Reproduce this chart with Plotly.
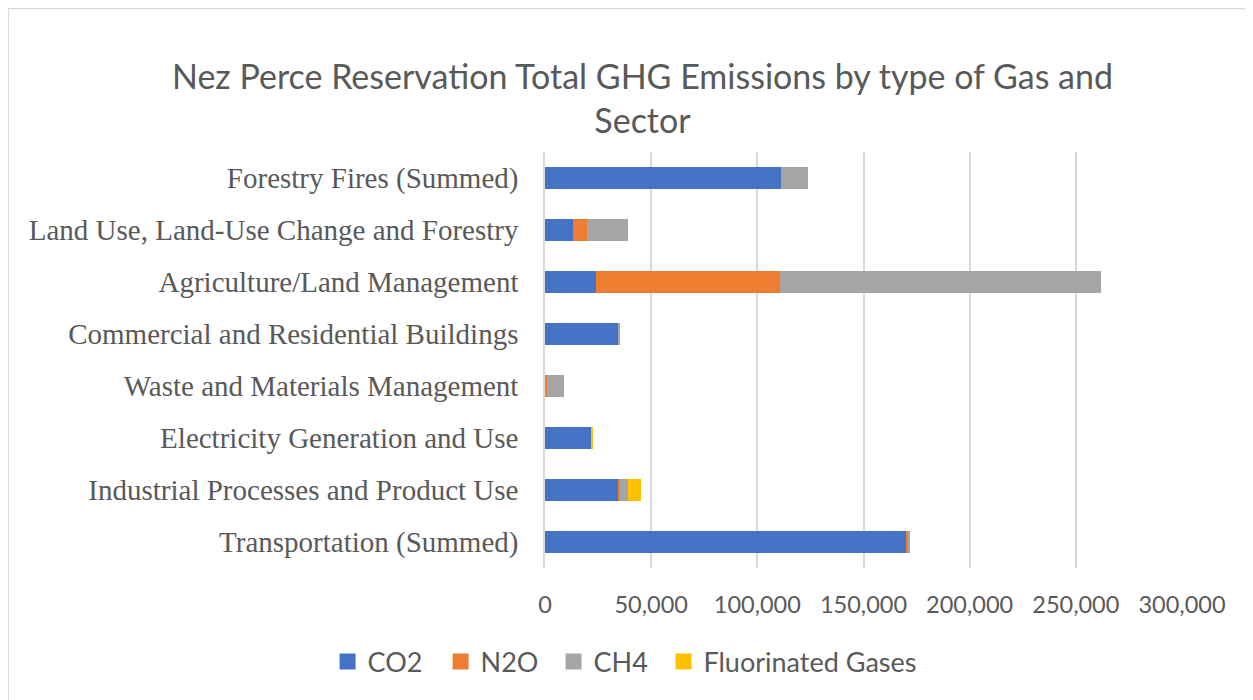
import plotly.graph_objects as go

categories = [
    "Transportation (Summed)",
    "Industrial Processes and Product Use",
    "Electricity Generation and Use",
    "Waste and Materials Management",
    "Commercial and Residential Buildings",
    "Agriculture/Land Management",
    "Land Use, Land-Use Change and Forestry",
    "Forestry Fires (Summed)",
]
co2 = [170200, 34700, 21600, 0, 34300, 23800, 13000, 111300]
n2o = [900, 600, 0, 800, 0, 86700, 7000, 0]
ch4 = [800, 3700, 0, 8200, 1200, 151500, 19100, 12700]
fgas = [0, 6100, 1200, 0, 0, 0, 0, 0]
x_ticks = [0, 50000, 100000, 150000, 200000, 250000, 300000]

series = [
    ("CO2", co2, "#4472C4", "legend"),
    ("N2O", n2o, "#ED7D31", "legend"),
    ("CH4", ch4, "#A5A5A5", "legend"),
    ("Fluorinated Gases", fgas, "#FFC000", "legend2"),
]

fig = go.Figure()
for name, vals, color, lg in series:
    fig.add_trace(go.Bar(
        y=categories, x=vals, name=name, orientation="h",
        marker=dict(color=color, line=dict(width=0)),
        showlegend=False, legendgroup=name,
    ))
# legend entries with larger square swatches
for name, vals, color, lg in series:
    fig.add_trace(go.Scatter(
        x=[None], y=[None], mode="markers", name=name, legendgroup=name,
        marker=dict(symbol="square", size=17, color=color),
        showlegend=True, legend=lg,
    ))

OFF = 8  # browser body margin
W, H = 1253 - OFF, 700 - OFF
L, R, T, B = 544.5 - OFF, 1181.7 - OFF, 152 - OFF, 568 - OFF
pw, ph = R - L, B - T

def px_to_paper_x(px):
    return (px - OFF - L) / pw

def px_to_paper_y(py):
    return (B - (py - OFF)) / ph

legend_font = dict(family="Lato, Open Sans, sans-serif", size=27, color="#595959")

fig.update_layout(
    width=W, height=H,
    margin=dict(l=L, r=W - R, t=T, b=H - B, pad=0),
    barmode="stack",
    bargap=0.58,
    plot_bgcolor="white",
    paper_bgcolor="white",
    title=dict(
        text="Nez Perce Reservation Total GHG Emissions by type of Gas and<br>Sector",
        font=dict(family="Lato, Open Sans, sans-serif", size=34, color="#595959"),
        x=(642.5 - OFF) / W, xanchor="center", xref="container",
        y=1 - (89 - OFF) / H, yanchor="middle", yref="container",
    ),
    xaxis=dict(
        range=[0, 300000],
        tickvals=x_ticks,
        tickformat=",d",
        showgrid=True, gridcolor="#D9D9D9", gridwidth=1.5,
        zeroline=False, showline=False,
        tickfont=dict(family="Lato, Open Sans, sans-serif", size=23.5, color="#595959"),
        ticklabelstandoff=20,
        fixedrange=True,
    ),
    yaxis=dict(
        categoryorder="array", categoryarray=categories,
        showline=True, linecolor="#D9D9D9", linewidth=1.5,
        showgrid=False,
        tickfont=dict(family="Liberation Serif, Times New Roman, serif", size=29, color="#595959"),
        ticklabelstandoff=19,
        fixedrange=True,
    ),
    legend=dict(
        orientation="h",
        x=px_to_paper_x(327), xanchor="left",
        y=px_to_paper_y(662), yanchor="middle",
        font=legend_font,
        traceorder="normal",
        itemwidth=30,
        entrywidth=68,
    ),
    legend2=dict(
        orientation="h",
        x=px_to_paper_x(663), xanchor="left",
        y=px_to_paper_y(662), yanchor="middle",
        font=legend_font,
        itemwidth=30,
    ),
    shapes=[
        dict(type="rect", xref="paper", yref="paper",
             x0=px_to_paper_x(7.5), x1=px_to_paper_x(1265),
             y0=px_to_paper_y(715), y1=px_to_paper_y(8.5),
             line=dict(color="#D9D9D9", width=1.5), fillcolor="rgba(0,0,0,0)",
             layer="below"),
    ],
)

fig.write_html("out.html")
